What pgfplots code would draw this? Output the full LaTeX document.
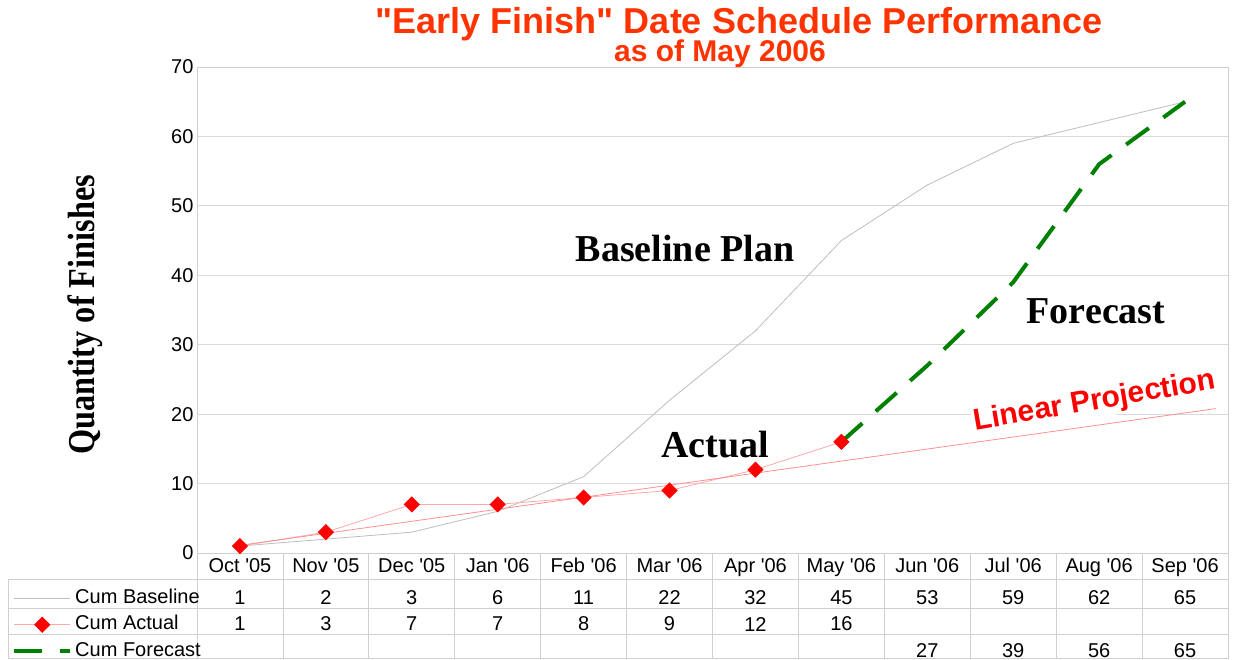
\documentclass[border=0pt]{standalone}
\usepackage{fontspec}
\setmainfont{Liberation Sans}
\newfontfamily\annfont{Liberation Serif}
\usepackage{pgfplots}
\usepackage{pgfplotstable}
\pgfplotsset{compat=1.18}
\definecolor{titlered}{HTML}{FF3300}
\definecolor{gridgray}{HTML}{D9D9D9}
\definecolor{basegray}{HTML}{BDBDBD}
\definecolor{actpink}{HTML}{FFA8A8}
\definecolor{projpink}{HTML}{FF9090}
\definecolor{fcgreen}{HTML}{008000}
\definecolor{tablegray}{HTML}{CFCFCF}
\newcommand{\tabfont}{\fontsize{20}{24}\selectfont}

\pgfplotstableread{
x base
0 1
1 2
2 3
3 6
4 11
5 22
6 32
7 45
8 53
9 59
10 62
11 65
}\baseline
\pgfplotstableread{
x act
0 1
1 3
2 7
3 7
4 8
5 9
6 12
7 16
}\actual
\pgfplotstableread{
x fc
7 16
8 27
9 39
10 56
11 65
}\forecast

\pgfplotsset{
  legend image code/.code={\draw[mark repeat=2,mark phase=2,#1] plot coordinates {(0pt,0pt) (28pt,0pt) (56pt,0pt)};}
}

\begin{document}
\begin{tikzpicture}[x=1pt,y=1pt]
\path[use as bounding box] (0,0) rectangle (1234,659);
% table frame
\draw[tablegray, line width=0.8pt] (8,80) -- (1228,80);
\draw[tablegray, line width=0.8pt] (8,51) -- (1228,51);
\draw[tablegray, line width=0.8pt] (8,25) -- (1228,25);
\draw[tablegray, line width=0.8pt] (8,0.5) -- (1228,0.5);
\draw[tablegray, line width=0.8pt] (8,0) -- (8,80);
\foreach \k in {0,...,12} {\draw[tablegray, line width=0.8pt] ({197+85.92*\k},0) -- ({197+85.92*\k},106);}
\begin{axis}[
  at={(197pt,106pt)}, anchor=south west,
  width=1031pt, height=486pt, scale only axis,
  xmin=-0.5, xmax=11.5, ymin=0, ymax=70,
  ytick={0,10,...,70},
  xtick={0,...,11},
  xticklabels={Oct \textquotesingle05, Nov \textquotesingle05, Dec \textquotesingle05, Jan \textquotesingle06, Feb \textquotesingle06, Mar \textquotesingle06, Apr \textquotesingle06, May \textquotesingle06, Jun \textquotesingle06, Jul \textquotesingle06, Aug \textquotesingle06, Sep \textquotesingle06},
  xticklabel style={yshift=-2pt, text height=14pt, text depth=4pt},
  major tick length=0pt,
  ymajorgrids, grid style={gridgray, line width=1pt},
  axis line style={tablegray, line width=1pt},
  tick label style={font=\tabfont},
  /pgf/number format/assume math mode=true,
  clip=false,
  legend cell align=left,
  legend style={draw=none, fill=none, at={(-0.1794,-0.0679)}, anchor=north west,
    font=\tabfont, row sep=2.5pt, inner sep=0pt,
    nodes={inner sep=3pt, text height=14pt, text depth=4pt}},
]
\addplot[basegray, line width=0.8pt, mark=none] table[x=x, y=base] {\baseline};
\addlegendentry{Cum Baseline}
\addplot[actpink, line width=0.8pt, mark=square*, mark size=5.3pt, mark options={red, fill=red, draw=red, rotate=45, solid}] table[x=x, y=act] {\actual};
\addlegendentry{Cum Actual}
\addplot[fcgreen, line width=4pt, dash pattern=on 28pt off 18pt, mark=none] table[x=x, y=fc] {\forecast};
\addlegendentry{Cum Forecast}
% linear projection (trend line endpoints)
\addplot[projpink, line width=0.8pt, forget plot] coordinates {(0,1.1) (11.36,20.8)};
% data table values
\addplot[draw=none, mark=none, forget plot, point meta=explicit, nodes near coords, nodes near coords align={anchor=center}, every node near coord/.append style={font=\tabfont, text=black, anchor=center}] table[x=x, y expr=-6.48, meta=base] {\baseline};
\addplot[draw=none, mark=none, forget plot, point meta=explicit, nodes near coords, nodes near coords align={anchor=center}, every node near coord/.append style={font=\tabfont, text=black, anchor=center}] table[x=x, y expr=-10.23, meta=act] {\actual};
\addplot[draw=none, mark=none, forget plot, point meta=explicit, nodes near coords, nodes near coords align={anchor=center}, restrict x to domain=7.5:12, every node near coord/.append style={font=\tabfont, text=black, anchor=center}] table[x=x, y expr=-14.0, meta=fc] {\forecast};
\end{axis}
% titles and annotations
\node[text=titlered, font=\fontsize{36}{40}\selectfont\bfseries] at (739,635) {\textquotedbl Early Finish\textquotedbl{} Date Schedule Performance};
\node[text=titlered, font=\fontsize{30}{34}\selectfont\bfseries] at (720,605) {as of May 2006};
\node[rotate=90, font=\annfont\fontsize{38}{44}\selectfont\bfseries] at (85,344) {\scalebox{0.85}[1]{Quantity of Finishes}};
\node[font=\annfont\fontsize{38}{44}\selectfont\bfseries] at (685,410) {Baseline Plan};
\node[font=\annfont\fontsize{38}{44}\selectfont\bfseries] at (715,214) {Actual};
\node[font=\annfont\fontsize{38}{44}\selectfont\bfseries] at (1096,348) {Forecast};
\node[rotate=9.8, text=red, fill=white, inner sep=2pt, font=\fontsize{30}{34}\selectfont\bfseries] at (1095,257) {Linear Projection};
\end{tikzpicture}
\end{document}
